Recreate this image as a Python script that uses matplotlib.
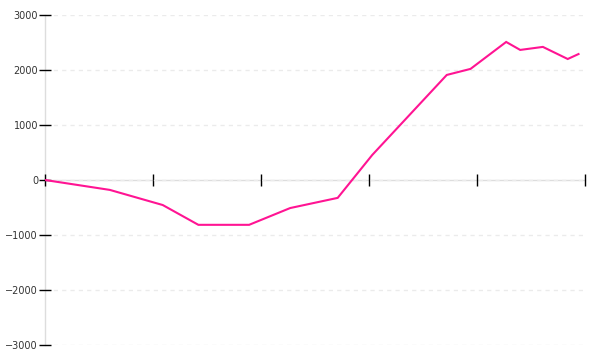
import matplotlib
matplotlib.use("Agg")
import matplotlib.pyplot as plt

# data (x in tick units, 0..5)
x_vals = [0.0, 0.60, 1.09, 1.42, 1.89, 2.27, 2.71, 3.03, 3.72, 3.94, 4.27, 4.40, 4.61, 4.84, 4.94]
y_vals = [0, -180, -455, -815, -815, -510, -325, 455, 1910, 2020, 2510, 2365, 2420, 2200, 2290]
y_ticks = [-3000, -2000, -1000, 0, 1000, 2000, 3000]
y_labels = ["\u22123000", "\u22122000", "\u22121000", "0", "1000", "2000", "3000"]
x_ticks = [0, 1, 2, 3, 4, 5]

fig = plt.figure(figsize=(6, 3.6), dpi=100)
ax = fig.add_axes([45/600, 15/360, 540/600, 330/360])

ax.plot(x_vals, y_vals, color="#ff1493", lw=1.5, zorder=3, solid_joinstyle="miter")

ax.set_xlim(0, 5)
ax.set_ylim(-3000, 3000)

for s in ["top", "right"]:
    ax.spines[s].set_visible(False)
ax.spines["left"].set_color("#dddddd")
ax.spines["left"].set_linewidth(1)
ax.spines["left"].set_zorder(0.2)
ax.spines["bottom"].set_position(("data", 0))
ax.spines["bottom"].set_color("#dddddd")
ax.spines["bottom"].set_linewidth(1)
ax.spines["bottom"].set_zorder(0.2)

ax.set_yticks(y_ticks)
ax.set_yticklabels(y_labels)
ax.set_xticks(x_ticks)
ax.set_xticklabels([])
ax.tick_params(axis="y", direction="inout", length=8, width=1, color="black",
               labelsize=7, labelcolor="#333333", pad=1)
ax.tick_params(axis="x", direction="inout", length=8, width=1, color="black")

ax.yaxis.grid(True, color="#ebebeb", linestyle=(0, (3, 3)), linewidth=1)
ax.set_axisbelow("line")

fig.savefig("out.png", dpi=100)
